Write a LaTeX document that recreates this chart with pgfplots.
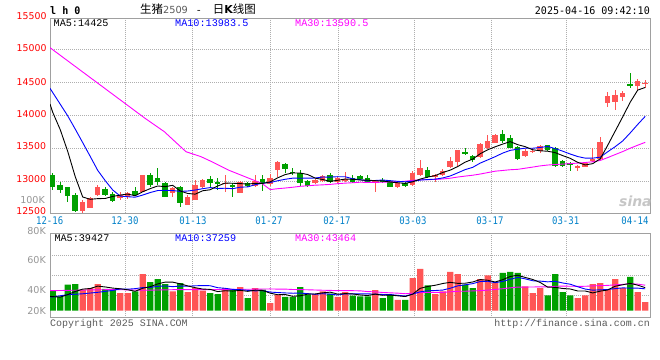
\documentclass[border=0pt]{standalone}
\usepackage{pgfplots}
\pgfplotsset{compat=1.18}
\usepackage{pgfplotstable}
\usepackage{fontspec}
\setmainfont{DejaVu Sans}
\newfontfamily\mono{Liberation Mono}
\newfontfamily\dmono[FakeStretch=0.86]{DejaVu Sans Mono}
\newfontfamily\tmono[FakeStretch=0.96]{DejaVu Sans Mono}
\newfontfamily\cjk{Noto Sans CJK SC}
\definecolor{cRed}{RGB}{255,85,85}
\definecolor{cGreen}{RGB}{0,160,0}
\definecolor{cMag}{RGB}{255,0,255}
\definecolor{cBlue}{RGB}{0,0,255}
\definecolor{cDate}{RGB}{0,128,200}
\definecolor{cFrame}{RGB}{160,160,160}
\definecolor{cGrid}{RGB}{175,175,175}
\definecolor{cLab}{RGB}{150,150,150}
\definecolor{cCopy}{RGB}{90,90,90}

% i open high low close volume(K-units)
\pgfplotstableread{
i o h l c v
4 12563 12724 12523 12699 37.3
5 12608 12764 12598 12749 40.2
6 12800 12950 12784 12925 47.3
9 12749 12850 12724 12800 31.3
10 12764 12850 12739 12825 31.3
12 12850 13101 12850 13101 65.0
16 12835 12925 12764 12900 34.3
18 12649 12800 12649 12764 33.1
19 12724 13026 12724 12950 40.2
20 12925 13036 12900 13026 35.5
23 12975 13101 12850 12985 40.2
25 12835 13015 12825 13000 42.0
27 12940 13101 12925 13010 40.2
29 12960 13111 12935 13051 13.6
30 13176 13312 13066 13302 28.0
35 12975 13036 12965 13026 29.6
36 13011 13101 13000 13086 34.3
38 13000 13076 12985 13051 24.3
39 13011 13151 13000 13036 33.0
43 12985 13026 12850 13016 36.7
46 12925 13000 12910 12985 19.0
48 12950 13166 12940 13136 58.0
49 13101 13327 13086 13212 74.0
51 13066 13116 13000 13101 29.6
52 13101 13187 13086 13166 34.3
53 13217 13367 13202 13317 68.7
54 13292 13478 13227 13478 65.0
57 13367 13579 13352 13569 56.2
58 13503 13704 13488 13619 62.7
59 13589 13719 13579 13704 49.1
63 13388 13488 13368 13468 43.2
64 13453 13503 13428 13468 31.3
65 13468 13553 13438 13538 40.2
70 13202 13252 13166 13237 22.5
71 13227 13287 13217 13277 27.2
72 13317 13503 13302 13337 47.3
73 13337 13669 13327 13604 49.1
74 14182 14358 14131 14292 37.3
75 14207 14383 14081 14307 56.2
76 14272 14373 14222 14343 40.2
78 14443 14544 14383 14519 33.1
79 14484 14534 14408 14493 15.4
}\redtab
\pgfplotstableread{
i o h l c v
0 13101 13126 12875 12925 35.5
1 12950 13000 12835 12875 25.4
2 12915 12925 12699 12784 46.1
3 12800 12835 12548 12563 47.3
7 12890 12925 12784 12800 38.5
8 12815 12850 12699 12714 37.3
11 12865 12925 12784 12800 34.3
13 13101 13126 12925 12950 50.9
14 13051 13202 12950 13000 56.2
15 12975 13000 12764 12774 47.3
17 12925 12940 12613 12674 49.1
21 13036 13086 12925 12975 31.3
22 12990 13051 12875 12960 29.6
24 12945 12975 12764 12935 37.3
26 12975 13000 12925 12940 22.5
28 13036 13101 12865 12985 37.3
31 13267 13287 13126 13187 24.3
32 13151 13212 13101 13136 24.3
33 13126 13176 12935 12975 42.0
34 13016 13026 12925 12940 28.4
37 13101 13136 12975 13000 30.2
40 13051 13101 12975 13000 26.6
41 13086 13101 13026 13036 25.4
42 13051 13101 12975 12985 25.4
44 13016 13051 12975 13011 22.5
45 13016 13026 12915 12925 28.4
47 12985 13000 12925 12935 19.0
50 13176 13217 13051 13076 44.9
55 13453 13503 13403 13413 46.1
56 13388 13403 13302 13327 40.2
60 13719 13780 13579 13614 66.9
61 13654 13704 13503 13513 68.7
62 13518 13538 13327 13342 66.9
66 13553 13553 13468 13478 27.2
67 13503 13528 13217 13237 65.0
68 13312 13327 13217 13242 33.1
69 13277 13302 13166 13267 27.2
77 14473 14644 14408 14443 59.8
}\greentab

\pgfplotsset{
  panel/.style={
    scale only axis, width=600bp,
    xmin=-0.36, xmax=79.64,
    axis line style={cFrame, line width=1bp},
    xtick={9.68,18.67,28.97,38.08,48.21,58.44,68.53},
    xticklabels={}, yticklabels={},
    scaled x ticks=false, scaled y ticks=false,
    major tick length=0pt,
    grid=major,
    grid style={cGrid, line width=0.8bp, dash pattern=on 1bp off 1bp},
  },
  wick/.style={draw=none, mark=none, forget plot,
    error bars/.cd, y dir=both, y explicit, error mark=none,
    error bar style={draw=#1, line width=1bp}},
  body/.style={draw=none, mark=none, forget plot,
    error bars/.cd, y dir=both, y explicit, error mark=none,
    error bar style={draw=#1, line width=5.5bp}},
}

\begin{document}
\begin{tikzpicture}
\path[use as bounding box] (0bp,0bp) rectangle (660bp,360bp);

% ---------- price panel ----------
\begin{axis}[panel,
  at={(50bp,146.7bp)}, anchor=south west, height=195bp,
  ymin=12523, ymax=15464,
  ytick={13000,13500,14000,14500,15000},
]
\addplot[wick=cRed] table[x=i, y expr={(\thisrow{h}+\thisrow{l})/2}, y error expr={(\thisrow{h}-\thisrow{l})/2}] {\redtab};
\addplot[body=cRed] table[x=i, y expr={(\thisrow{o}+\thisrow{c})/2}, y error expr={max(abs(\thisrow{c}-\thisrow{o})/2,7)}] {\redtab};
\addplot[wick=cGreen] table[x=i, y expr={(\thisrow{h}+\thisrow{l})/2}, y error expr={(\thisrow{h}-\thisrow{l})/2}] {\greentab};
\addplot[body=cGreen] table[x=i, y expr={(\thisrow{o}+\thisrow{c})/2}, y error expr={max(abs(\thisrow{c}-\thisrow{o})/2,7)}] {\greentab};
% MA30
\addplot[cMag, line width=0.9bp] coordinates {(-0.36,15021) (12.31,13956) (14.88,13754) (17.77,13452) (19.77,13377) (21.2,13302) (23.41,13176) (25.64,13075) (27.87,12975) (29,12881) (30,12894) (31,12904) (32,12916) (33,12930) (34,12938) (35,12947) (36,12952) (37,12959) (38,12970) (39,12978) (40,12984) (41,12992) (42,12988) (43,12990) (44,12991) (45,12996) (46,12998) (47,13007) (48,13020) (49,13028) (50,13030) (51,13034) (52,13041) (53,13052) (54,13070) (55,13084) (56,13097) (57,13115) (58,13137) (59,13158) (60,13169) (61,13180) (62,13186) (63,13203) (64,13220) (65,13238) (66,13251) (67,13259) (68,13265) (69,13273) (70,13280) (71,13289) (72,13300) (73,13320) (74,13363) (75,13409) (76,13454) (77,13504) (78,13550) (79,13593)};
% MA10
\addplot[cBlue, line width=0.9bp] coordinates {(-0.36,14408) (0,14345) (1,14169) (2,13993) (3,13794) (4,13589) (5,13382) (6,13171) (7,13016) (8,12875) (9,12783) (10,12773) (11,12766) (12,12798) (13,12836) (14,12866) (15,12869) (16,12866) (17,12854) (18,12859) (19,12874) (20,12894) (21,12911) (22,12897) (23,12901) (24,12894) (25,12917) (26,12921) (27,12955) (28,12977) (29,12987) (30,13014) (31,13036) (32,13053) (33,13052) (34,13053) (35,13055) (36,13070) (37,13069) (38,13075) (39,13074) (40,13044) (41,13029) (42,13014) (43,13018) (44,13025) (45,13015) (46,13005) (47,12998) (48,13007) (49,13024) (50,13032) (51,13038) (52,13056) (53,13086) (54,13133) (55,13182) (56,13216) (57,13280) (58,13328) (59,13377) (60,13431) (61,13472) (62,13490) (63,13505) (64,13504) (65,13516) (66,13531) (67,13498) (68,13460) (69,13417) (70,13379) (71,13355) (72,13355) (73,13369) (74,13451) (75,13528) (76,13614) (77,13735) (78,13863) (79,13985)};
% MA5
\addplot[black, line width=0.9bp] coordinates {(-0.36,14172) (0,14047) (1,13786) (2,13458) (3,13077) (4,12769) (5,12734) (6,12744) (7,12747) (8,12777) (9,12798) (10,12813) (11,12788) (12,12848) (13,12895) (14,12935) (15,12925) (16,12945) (17,12860) (18,12822) (19,12812) (20,12863) (21,12878) (22,12935) (23,12979) (24,12976) (25,12971) (26,12964) (27,12974) (28,12974) (29,12997) (30,13058) (31,13107) (32,13132) (33,13130) (34,13108) (35,13053) (36,13033) (37,13005) (38,13021) (39,13040) (40,13035) (41,13025) (42,13022) (43,13015) (44,13010) (45,12995) (46,12984) (47,12974) (48,12998) (49,13039) (50,13069) (51,13092) (52,13138) (53,13174) (54,13228) (55,13295) (56,13340) (57,13421) (58,13481) (59,13526) (60,13567) (61,13604) (62,13558) (63,13528) (64,13481) (65,13466) (66,13459) (67,13438) (68,13393) (69,13352) (70,13292) (71,13252) (72,13272) (73,13344) (74,13549) (75,13763) (76,13977) (77,14198) (78,14381) (79,14421)};
\end{axis}

% ---------- volume panel ----------
\begin{axis}[panel,
  at={(50bp,42.5bp)}, anchor=south west, height=83.5bp,
  ymin=-12.1, ymax=136.1,
  ytick={27.3,62.8,98.3},
]
\addplot[ybar, bar width=6.3bp, bar shift=0pt, fill=cRed, draw=none, forget plot] table[x=i, y=v] {\redtab};
\addplot[ybar, bar width=6.3bp, bar shift=0pt, fill=cGreen, draw=none, forget plot] table[x=i, y=v] {\greentab};
% MA30
\addplot[cMag, line width=0.9bp] coordinates {(-0.36,35.5) (8,37.5) (12.4,36.3) (17,37.5) (21,37.5) (25.8,38) (29,38.6) (30,38.3) (31,38.3) (32,37.6) (33,37.4) (34,37.1) (35,36.7) (36,36.3) (37,36.0) (38,35.6) (39,35.7) (40,35.5) (41,35.2) (42,33.9) (43,33.4) (44,32.3) (45,31.7) (46,31.1) (47,30.1) (48,31.0) (49,32.1) (50,32.4) (51,32.4) (52,32.5) (53,33.5) (54,34.4) (55,34.5) (56,35.1) (57,35.6) (58,36.5) (59,37.7) (60,39.0) (61,40.5) (62,41.9) (63,41.9) (64,42.0) (65,42.4) (66,42.1) (67,43.3) (68,43.6) (69,43.4) (70,43.2) (71,43.3) (72,44.0) (73,44.5) (74,44.9) (75,45.9) (76,46.6) (77,47.9) (78,47.1) (79,45.2)};
% MA10
\addplot[cBlue, line width=0.9bp] coordinates {(-0.36,24.3) (0,24.5) (2,28.4) (4,30) (6,32.6) (8,36) (9,38.6) (10,38.2) (11,39.1) (12,41.0) (13,41.3) (14,43.2) (15,43.9) (16,42.6) (17,43.7) (18,43.3) (19,44.2) (20,44.6) (21,44.3) (22,40.8) (23,39.7) (24,37.8) (25,37.3) (26,36.1) (27,35.2) (28,35.6) (29,33.0) (30,32.2) (31,31.5) (32,31.0) (33,31.2) (34,30.3) (35,29.0) (36,30.2) (37,29.2) (38,27.9) (39,29.8) (40,29.7) (41,29.8) (42,29.9) (43,29.4) (44,28.8) (45,28.7) (46,27.2) (47,26.0) (48,29.4) (49,33.5) (50,35.3) (51,35.8) (52,36.6) (53,39.8) (54,44.1) (55,45.9) (56,48.0) (57,51.7) (58,52.2) (59,49.7) (60,51.9) (61,55.8) (62,59.1) (63,56.5) (64,53.1) (65,52.5) (66,51.2) (67,52.1) (68,49.2) (69,47.0) (70,42.5) (71,38.4) (72,36.4) (73,37.0) (74,37.6) (75,39.2) (76,40.5) (77,40.0) (78,40.0) (79,38.8)};
% MA5
\addplot[black, line width=0.9bp] coordinates {(-0.36,25.5) (0,25) (1,24) (2,28.5) (3,34) (4,38.3) (5,39.3) (6,43.6) (7,42.1) (8,40.1) (9,38.9) (10,37.1) (11,34.5) (12,39.8) (13,42.6) (14,47.5) (15,50.7) (16,50.7) (17,47.6) (18,44.0) (19,40.8) (20,38.4) (21,37.8) (22,33.9) (23,35.4) (24,34.8) (25,36.1) (26,34.3) (27,36.4) (28,35.9) (29,31.1) (30,28.3) (31,28.7) (32,25.5) (33,26.4) (34,29.4) (35,29.7) (36,31.7) (37,32.9) (38,29.4) (39,30.3) (40,29.7) (41,27.9) (42,26.9) (43,29.4) (44,27.3) (45,27.7) (46,26.4) (47,25.1) (48,29.4) (49,39.7) (50,43.0) (51,45.1) (52,48.2) (53,50.3) (54,48.5) (55,48.7) (56,50.9) (57,55.2) (58,54.0) (59,50.9) (60,55.0) (61,60.7) (62,62.9) (63,59.0) (64,55.4) (65,50.1) (66,41.8) (67,41.4) (68,39.4) (69,38.5) (70,35.0) (71,35.0) (72,31.5) (73,34.7) (74,36.7) (75,43.4) (76,46.0) (77,48.5) (78,45.3) (79,40.9)};
\end{axis}

% ---------- texts ----------
\node[anchor=base west, inner sep=0, font=\tmono\bfseries\fontsize{10.5}{12}\selectfont] at (50bp,345bp) {l h 0};
\node[anchor=base west, inner sep=0] at (140bp,346.2bp) {{\cjk\fontsize{11.5}{12}\selectfont 生猪}{\fontsize{9.8}{12}\selectfont\color{cCopy}2509}\hspace{8bp}{\mono\fontsize{10}{12}\selectfont -}\hspace{11bp}{\cjk\fontsize{11.5}{12}\selectfont 日}{\fontsize{11}{12}\selectfont\bfseries K}{\cjk\fontsize{11.5}{12}\selectfont 线图}};
\node[anchor=base east, inner sep=0, font=\tmono\fontsize{10.5}{12}\selectfont] at (650bp,345bp) {2025-04-16 09:42:10};

\begin{scope}[every node/.style={anchor=base west, inner sep=0, font=\mono\fontsize{10.2}{12}\selectfont}]
\node at (53.5bp,333.3bp) {MA5:14425};
\node[text=cBlue] at (175bp,333.3bp) {MA10:13983.5};
\node[text=cMag] at (295bp,333.3bp) {MA30:13590.5};
\node at (54.3bp,118.3bp) {MA5:39427};
\node[text=cBlue] at (175bp,118.3bp) {MA10:37259};
\node[text=cMag] at (295bp,118.3bp) {MA30:43464};
\end{scope}

\begin{scope}[every node/.style={anchor=base east, inner sep=0, text=red, font=\fontsize{9.4}{12}\selectfont}]
\node at (46.7bp,340.7bp) {15500};
\node at (46.7bp,308.3bp) {15000};
\node at (46.7bp,274bp) {14500};
\node at (46.7bp,242.7bp) {14000};
\node at (46.3bp,210.7bp) {13500};
\node at (46.3bp,177.3bp) {13000};
\node at (46.3bp,145bp) {12500};
\end{scope}

\begin{scope}[every node/.style={anchor=base east, inner sep=0, text=cLab, font=\fontsize{9.6}{12}\selectfont}]
\node at (45bp,156.7bp) {100K};
\node at (46bp,125.7bp) {80K};
\node at (46bp,96.7bp) {60K};
\node at (46bp,66.3bp) {40K};
\node at (46bp,45.7bp) {20K};
\end{scope}

\begin{scope}[every node/.style={anchor=base, inner sep=0, text=cDate, font=\dmono\fontsize{10.5}{12}\selectfont}]
\node at (49.7bp,135bp) {12-16};
\node at (125bp,135bp) {12-30};
\node at (193bp,135bp) {01-13};
\node at (269bp,135bp) {01-27};
\node at (337bp,135bp) {02-17};
\node at (413bp,135bp) {03-03};
\node at (490bp,135bp) {03-17};
\node at (565.7bp,135bp) {03-31};
\node at (635bp,135bp) {04-14};
\end{scope}

\node[anchor=base west, inner sep=0, text=cCopy, font=\mono\fontsize{10}{12}\selectfont] at (50bp,33.3bp) {Copyright 2025 SINA.COM};
\node[anchor=base east, inner sep=0, text=cCopy, font=\mono\fontsize{10}{12}\selectfont] at (650bp,33.3bp) {http://finance.sina.com.cn};
\node[anchor=base west, inner sep=0, text=gray!45, font=\bfseries\itshape\fontsize{14}{14}\selectfont] at (619bp,153bp) {sina};
\end{tikzpicture}
\end{document}
